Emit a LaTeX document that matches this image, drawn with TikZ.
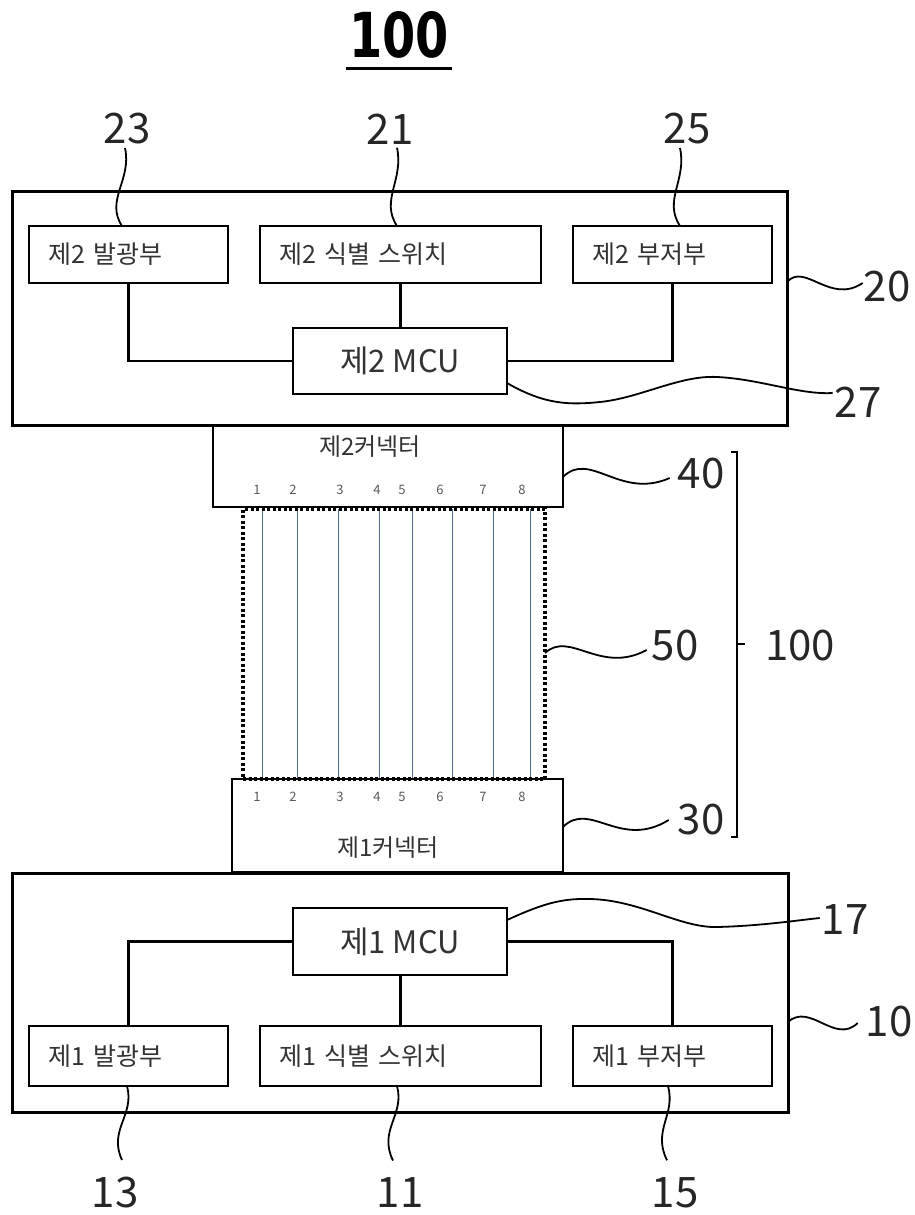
\documentclass[tikz,border=0pt]{standalone}
\usepackage{fontspec}
\setmainfont{Noto Sans CJK KR}
\newfontfamily\titlefont[FakeStretch=0.77]{DejaVu Sans}
\usetikzlibrary{calc}
\definecolor{txt}{HTML}{333333}
\definecolor{cablec}{RGB}{80,110,140}
\begin{document}
\begin{tikzpicture}[x=1pt,y=-1pt,
  bigbox/.style={draw, line width=3pt, inner sep=0pt, outer sep=0pt},
  unitbox/.style={draw, line width=2.8pt, minimum height=57pt, inner xsep=19pt, inner ysep=0pt, outer sep=0pt, align=left, font=\fontsize{25}{27}\selectfont, text=txt},
  mcubox/.style={draw, line width=2.8pt, minimum width=214pt, minimum height=66pt, inner sep=0pt, outer sep=0pt, font=\fontsize{31}{33}\selectfont, text=txt},
  connbox/.style={draw, line width=1.8pt, inner sep=0pt, outer sep=0pt},
  conntext/.style={inner sep=0pt, font=\fontsize{24}{26}\selectfont, text=txt},
  wire/.style={line width=2.8pt},
  thinwire/.style={line width=1pt},
  leader/.style={line width=1.8pt},
  refnum/.style={inner sep=0pt, outer sep=0pt, font=\fontsize{42}{42}\selectfont, text=black!85},
  pinnum/.style={inner sep=0pt, font=\fontsize{13}{13}\selectfont, text=black!65},
  cable/.style={line width=1pt, draw=cablec},
  dotbox/.style={draw, line width=3.5pt, dash pattern=on 3pt off 2.5pt, inner sep=0pt, outer sep=0pt}
]
\useasboundingbox (0,0) rectangle (915,1215);

% title
\node[inner sep=0pt, font=\titlefont\bfseries\fontsize{62}{62}\selectfont] (title) at (399,35) {100};
\draw[line width=3pt] ($(title.south west)+(-3,10)$) -- ($(title.south east)+(3,10)$);

% ===== unit 20 =====
\node[bigbox, minimum width=775pt, minimum height=234pt] (box20) at (399.5,308) {};
\node[unitbox, text width=161pt] (b23) at (128.5,254.5) {제2 발광부};
\node[unitbox, text width=243pt] (b21) at (400.5,254.5) {제2 식별 스위치};
\node[unitbox, text width=161pt] (b25) at (672.5,254.5) {제2 부저부};
\node[mcubox] (mcu2) at (400,361) {제2 MCU};
\draw[wire] (b23.south) |- (mcu2.west);
\draw[wire] (b21.south) -- (b21.south |- mcu2.north);
\draw[wire] (b25.south) |- (mcu2.east);

\node[refnum] (l23) at (127,129) {23};
\node[refnum] (l21) at (390,129) {21};
\node[refnum] (l25) at (687,129) {25};
\node[refnum] (l20) at (887,287) {20};
\node[refnum] (l27) at (858,402) {27};

\draw[leader] ($(l23.south)+(-2,3.5)$) .. controls (132,180) and (105,200) .. ($(b23.north)+(-6.5,0)$);
\draw[leader] ($(l21.south)+(7,3.5)$) .. controls (404,180) and (380,200) .. ($(b21.north)+(-3.5,0)$);
\draw[leader] ($(l25.south)+(-7,3.5)$) .. controls (687,180) and (663,200) .. ($(b25.north)+(7.5,0)$);
\draw[leader] ($(box20.east)+(0,-26)$) .. controls (805,262) and (830,305) .. ($(l20.west)+(-1,-4)$);
\draw[leader] ($(mcu2.east)+(0,22)$) .. controls (545,405) and (570,405) .. (600,402)
   .. controls (640,398) and (680,375) .. (717,377)
   .. controls (760,379) and (800,395) .. ($(l27.west)+(-2,-9)$);

% ===== connector 2 =====
\node[connbox, minimum width=350pt, minimum height=82pt] (c2) at (388,466) {};
\node[conntext] (c2t) at (370,447) {제2커넥터};
\draw[thinwire] ($(mcu2.south)+(-15,0)$) -- ($(mcu2.south)+(-15,0)$ |- c2.north);

% ===== cable 50 =====
\foreach \x in {262,297,338,379,412,452,493,530}
  \draw[cable] (\x,509) -- (\x,779);
\node[dotbox, minimum width=302pt, minimum height=270pt] (cab) at (394,644) {};

% ===== connector 1 =====
\node[connbox, minimum width=331pt, minimum height=93pt] (c1) at (397.5,825.5) {};
\node[conntext] (c1t) at (388,848) {제1커넥터};

\foreach \x/\n in {257/1,293/2,340/3,377/4,402/5,440/6,483/7,522/8} {
  \node[pinnum] (p2\n) at (\x,490) {\n};
  \node[pinnum] (p1\n) at (\x,797) {\n};
}

\node[refnum] (l40) at (701,474) {40};
\node[refnum] (l50) at (675,646) {50};
\node[refnum] (l30) at (701,820) {30};
\node[refnum] (l100) at (800,646) {100};

\draw[leader] ($(c2.east)+(0,11)$) .. controls (590,450) and (620,500) .. ($(l40.west)+(-8,4)$);
\draw[leader] ($(cab.east)+(0,9)$) .. controls (570,630) and (600,675) .. ($(l50.west)+(-5,4)$);
\draw[leader] ($(c1.east)+(0,1.5)$) .. controls (590,800) and (620,850) .. ($(l30.west)+(-9,0)$);

% bracket
\draw[leader] (731,452) -- (737,452) -- (737,837) -- (731,837);
\draw[leader] (737,644) -- ($(l100.west)+(-20,-2)$);

% ===== unit 10 =====
\node[bigbox, minimum width=776pt, minimum height=239pt] (box10) at (400,992.5) {};
\node[mcubox, minimum height=67pt] (mcu1) at (400,941.5) {제1 MCU};
\node[unitbox, minimum height=60pt, text width=161pt] (b13) at (128.5,1056) {제1 발광부};
\node[unitbox, minimum height=60pt, text width=243pt] (b11) at (400.5,1056) {제1 식별 스위치};
\node[unitbox, minimum height=60pt, text width=161pt] (b15) at (672.5,1056) {제1 부저부};
\draw[wire] (b13.north) |- (mcu1.west);
\draw[wire] (b11.north) -- (b11.north |- mcu1.south);
\draw[wire] (b15.north) |- (mcu1.east);
\draw[thinwire] ($(c1.south)+(-4,0)$) -- ($(c1.south)+(-4,0)$ |- mcu1.north);

\node[refnum] (l17) at (845,920) {17};
\node[refnum] (l10) at (889,1022) {10};
\node[refnum] (l13) at (115,1193) {13};
\node[refnum] (l11) at (400,1193) {11};
\node[refnum] (l15) at (675,1193) {15};

\draw[leader] ($(mcu1.east)+(0,-21.5)$) .. controls (540,905) and (560,898) .. (590,899)
   .. controls (640,900) and (680,928) .. (717,927)
   .. controls (760,926) and (800,920) .. ($(l17.west)+(-2,-2)$);
\draw[leader] ($(box10.east)+(0,29.5)$) .. controls (810,1002) and (835,1045) .. ($(l10.west)+(-8,1)$);
\draw[leader] ($(b13.south)+(-1.5,0)$) .. controls (135,1115) and (108,1130) .. ($(l13.north)+(7,-17.5)$);
\draw[leader] ($(b11.south)+(-3.5,0)$) .. controls (405,1115) and (378,1130) .. ($(l11.north)+(-7,-17.5)$);
\draw[leader] ($(b15.south)+(-4.5,0)$) .. controls (676,1115) and (652,1130) .. ($(l15.north)+(-8,-17.5)$);
\end{tikzpicture}
\end{document}
